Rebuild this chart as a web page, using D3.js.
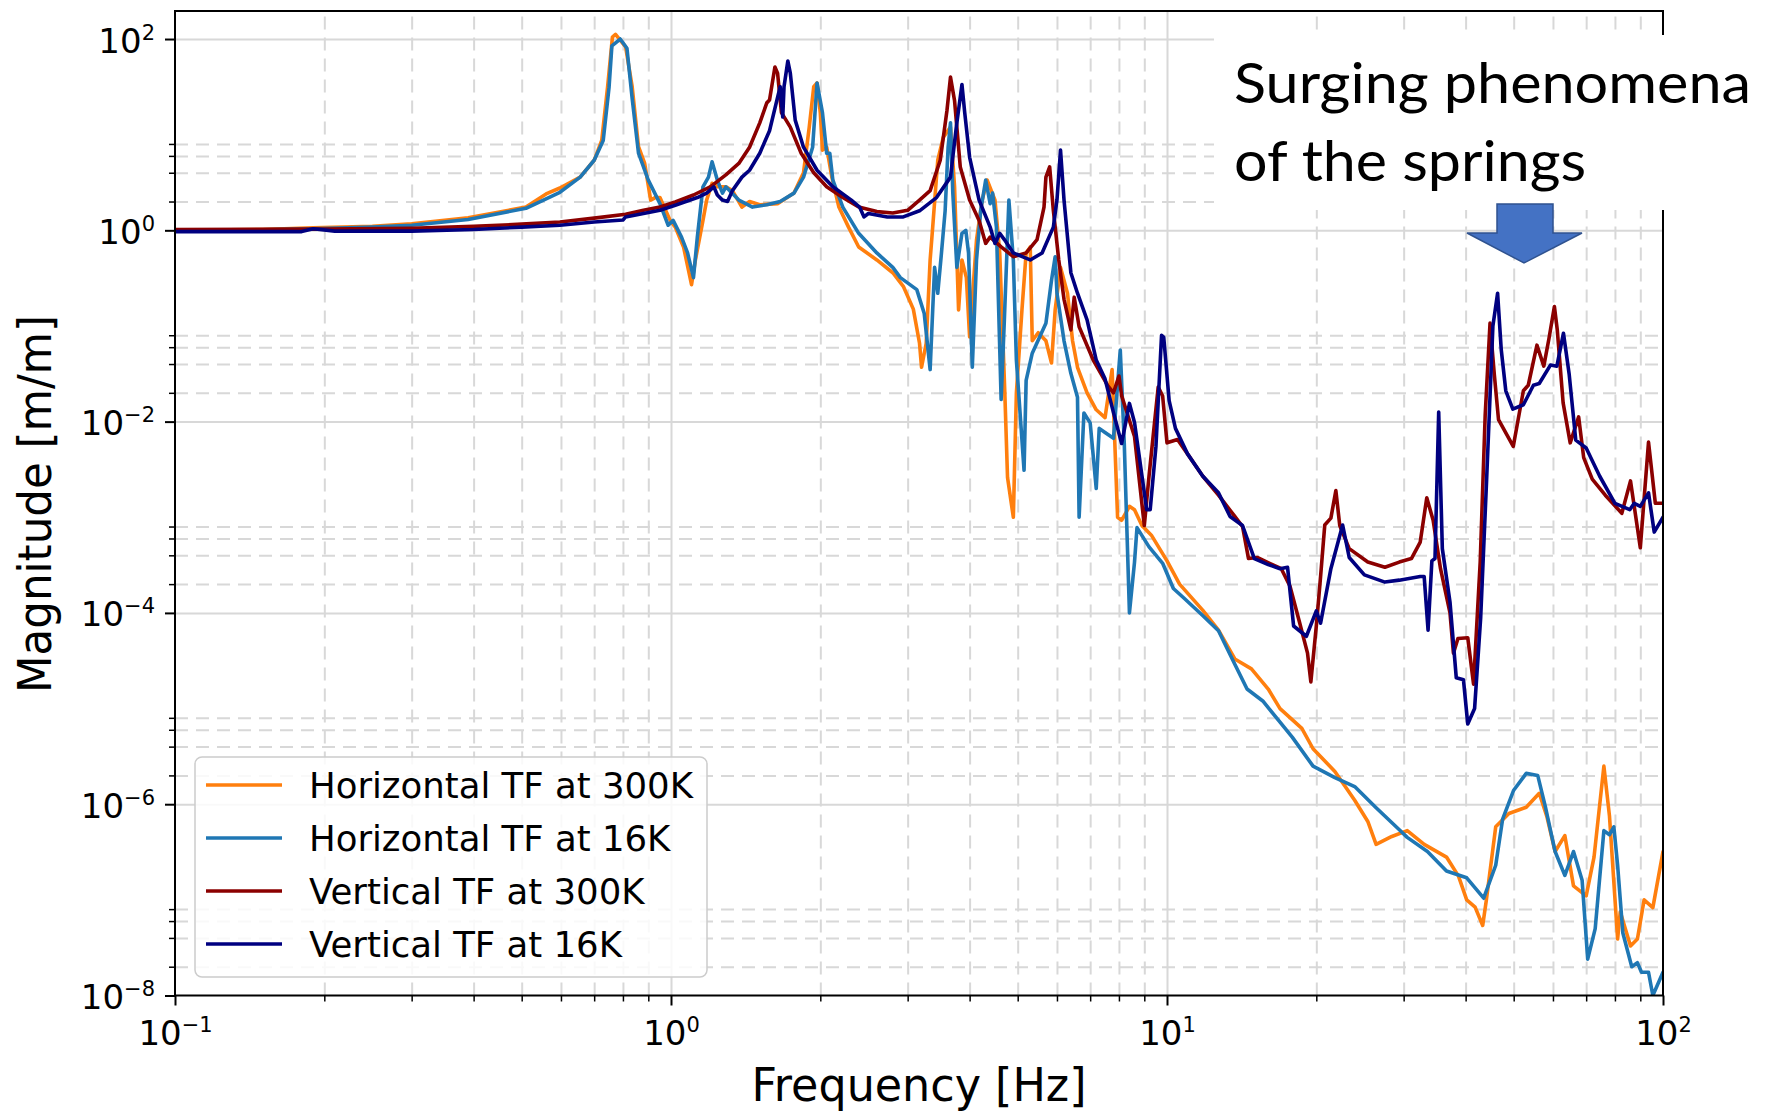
<!DOCTYPE html>
<html><head><meta charset="utf-8">
<script src="https://cdn.jsdelivr.net/npm/d3@7"></script>
<style>
body{margin:0;background:#fff;}
svg{display:block;}
</style></head><body>
<svg id="chart" width="1771" height="1111"></svg>
<script>
// ---------- data ----------
const xTickExponents = [-1, 0, 1, 2];
const yTickExponents = [-8, -6, -4, -2, 0, 2];
const xMinorMultipliers = [2, 3, 4, 5, 6, 7, 8, 9];
const yMinorMultipliers = [2, 4, 6, 8];
const seriesNames = ["Horizontal TF at 300K", "Horizontal TF at 16K", "Vertical TF at 300K", "Vertical TF at 16K"];
const seriesColors = ["#ff7f0e", "#1f77b4", "#8b0000", "#000080"];
const xLabel = "Frequency [Hz]";
const yLabel = "Magnitude [m/m]";
const annotationLines = ["Surging phenomena", "of the springs"];

// [frequency Hz, magnitude m/m]
const horizontal300K = [[0.1,1.0],[0.15,1.02],[0.19,1.06],[0.25,1.1],[0.3,1.17],[0.39,1.35],[0.51,1.75],[0.56,2.4],[0.597,2.77],[0.656,3.6],[0.70,5.4],[0.725,8.7],[0.745,31.6],[0.762,105],[0.773,112],[0.81,83],[0.835,31.8],[0.86,7.5],[0.885,5.0],[0.91,2.07],[0.929,2.2],[0.95,2.2],[0.996,1.27],[1.02,1.08],[1.06,0.67],[1.10,0.27],[1.12,0.49],[1.16,1.27],[1.18,2.07],[1.21,3.1],[1.24,2.85],[1.29,2.85],[1.33,2.6],[1.39,1.75],[1.44,2.0],[1.51,1.85],[1.64,1.9],[1.77,2.45],[1.85,4.0],[1.90,12],[1.94,31.7],[1.97,34.7],[2.0,16.9],[2.02,6.9],[2.06,7.4],[2.11,3.6],[2.18,1.75],[2.28,1.08],[2.39,0.67],[2.6,0.49],[2.8,0.36],[2.94,0.26],[3.08,0.15],[3.17,0.066],[3.2,0.037],[3.27,0.066],[3.33,0.49],[3.37,1.08],[3.45,5.4],[3.54,9.4],[3.66,12],[3.73,2.85],[3.80,0.147],[3.86,0.49],[3.94,0.32],[4.0,0.077],[4.13,0.79],[4.24,2.07],[4.34,3.35],[4.5,2.07],[4.6,0.58],[4.71,0.02],[4.77,0.0026],[4.9,0.001],[4.97,0.02],[5.1,0.147],[5.2,0.58],[5.3,0.67],[5.35,0.07],[5.5,0.085],[5.7,0.07],[5.85,0.041],[5.95,0.147],[6.1,0.41],[6.3,0.22],[6.45,0.07],[6.6,0.037],[6.9,0.02],[7.2,0.0133],[7.5,0.011],[7.75,0.035],[7.95,0.001],[8.1,0.00093],[8.4,0.0013],[8.6,0.0012],[8.9,0.00082],[9.3,0.00065],[10,0.00035],[10.6,0.0002],[11.8,0.000107],[12.7,6.6e-5],[13.7,3.3e-5],[14.8,2.6e-5],[16,1.6e-5],[16.9,1.0e-5],[18.7,6.2e-6],[19.7,3.8e-6],[21.8,2.2e-6],[23.9,1.1e-6],[25.4,6.6e-7],[26.4,3.8e-7],[28.4,4.6e-7],[30.5,5.3e-7],[33,3.8e-7],[36.6,2.8e-7],[38.7,1.77e-7],[40.2,1.0e-7],[41.8,8.4e-8],[43.3,5.4e-8],[44,9.6e-8],[46,5.8e-7],[48.9,8e-7],[53,9.3e-7],[56.3,1.3e-6],[58.3,7.5e-7],[60.6,3.2e-7],[63.4,4.7e-7],[66,1.4e-7],[70,1.1e-7],[72.6,2.8e-7],[76,2.5e-6],[78,7.5e-7],[81,3.9e-8],[82,7.5e-8],[86,3.3e-8],[88.8,3.9e-8],[91.6,1.0e-7],[95.4,8.3e-8],[100,3.2e-7]];

const horizontal16K = [[0.1,1.0],[0.15,1.01],[0.19,1.04],[0.25,1.08],[0.3,1.13],[0.39,1.3],[0.51,1.7],[0.597,2.5],[0.656,3.6],[0.70,5.4],[0.73,8.7],[0.75,31],[0.76,85],[0.79,100],[0.815,80],[0.835,24],[0.86,6.4],[0.90,3.35],[0.95,1.9],[0.987,1.13],[1.01,1.27],[1.05,0.85],[1.08,0.58],[1.11,0.32],[1.13,0.85],[1.16,2.85],[1.19,3.6],[1.21,5.2],[1.24,3.35],[1.27,2.45],[1.29,2.85],[1.37,2.07],[1.46,1.75],[1.56,1.85],[1.66,2.0],[1.77,2.45],[1.85,3.6],[1.93,7.4],[1.97,34.7],[2.02,17],[2.06,6.4],[2.09,6.4],[2.12,3.35],[2.22,1.75],[2.39,0.93],[2.6,0.58],[2.8,0.41],[2.9,0.32],[3.13,0.24],[3.24,0.135],[3.33,0.035],[3.37,0.147],[3.4,0.41],[3.45,0.22],[3.51,0.58],[3.57,1.6],[3.62,7.4],[3.66,13.3],[3.7,2.45],[3.77,0.41],[3.86,0.93],[3.93,1.0],[3.98,0.58],[4.05,0.037],[4.13,0.49],[4.21,1.6],[4.31,3.35],[4.4,1.9],[4.45,2.45],[4.53,1.08],[4.63,0.017],[4.7,0.116],[4.8,2.07],[4.9,0.49],[4.97,0.044],[5.15,0.0031],[5.2,0.027],[5.35,0.052],[5.7,0.107],[5.85,0.30],[5.95,0.53],[6.0,0.22],[6.2,0.07],[6.4,0.032],[6.6,0.018],[6.65,0.001],[6.8,0.0123],[7.0,0.0097],[7.2,0.002],[7.3,0.0085],[7.5,0.0077],[7.8,0.0067],[8.05,0.056],[8.2,0.006],[8.4,1.0e-4],[8.6,0.00034],[8.7,0.00078],[9.2,0.00049],[9.8,0.00033],[10.3,0.00018],[10.8,0.000144],[11.8,9.4e-5],[12.7,6.5e-5],[13.7,2.9e-5],[14.5,1.6e-5],[15.6,1.2e-5],[16.9,7.2e-6],[17.9,5e-6],[19.7,2.5e-6],[21.8,1.9e-6],[23.9,1.53e-6],[26.4,9.2e-7],[29.4,5.4e-7],[30.5,4.5e-7],[33.5,3.2e-7],[36.6,2e-7],[40.2,1.7e-7],[43.5,1.04e-7],[46,2.3e-7],[47.5,7e-7],[50,1.4e-6],[53,2.1e-6],[55.9,2.0e-6],[57.9,9.5e-7],[60.6,3.2e-7],[63.4,1.8e-7],[66,3.2e-7],[68.7,1.6e-7],[70.5,2.4e-8],[73,5e-8],[76,5.3e-7],[78,4.8e-7],[79.6,5.8e-7],[81,2.3e-7],[83,4.5e-8],[86.5,2e-8],[88.8,2.2e-8],[90.5,1.75e-8],[93.5,1.75e-8],[95.4,1.0e-8],[100,1.75e-8]];

const vertical300K = [[0.1,1.02],[0.2,1.03],[0.3,1.05],[0.4,1.1],[0.5,1.16],[0.597,1.22],[0.70,1.34],[0.81,1.47],[0.88,1.62],[0.95,1.75],[1.02,1.98],[1.11,2.34],[1.20,2.85],[1.29,3.8],[1.37,5.0],[1.44,7.4],[1.51,13.3],[1.56,21.5],[1.58,23],[1.62,51],[1.64,44],[1.67,17],[1.74,12],[1.83,6.4],[1.94,4.0],[2.06,2.85],[2.22,2.2],[2.39,1.75],[2.6,1.57],[2.8,1.52],[3.0,1.62],[3.17,2.07],[3.33,2.6],[3.49,5.4],[3.6,17.8],[3.66,40],[3.73,22.6],[3.83,4.6],[4.0,2.07],[4.18,1.27],[4.31,0.73],[4.4,0.85],[4.63,0.67],[4.9,0.53],[5.2,0.58],[5.47,0.8],[5.65,1.75],[5.7,3.6],[5.8,4.6],[5.9,1.62],[6.05,0.49],[6.2,0.19],[6.4,0.091],[6.5,0.2],[6.65,0.098],[7.1,0.044],[7.6,0.0237],[7.8,0.02],[8.0,0.030],[8.1,0.0187],[8.6,0.007],[9.0,0.00082],[9.2,0.0027],[9.6,0.023],[9.8,0.0185],[10.0,0.006],[10.5,0.0065],[11.0,0.0046],[11.8,0.0027],[12.7,0.0017],[13.7,0.00102],[14.2,0.0008],[14.6,0.00037],[15.2,0.00038],[16.1,0.00033],[17,0.00029],[17.7,0.00019],[18.5,8e-5],[19.2,3.8e-5],[19.5,1.9e-5],[20,7.3e-5],[20.4,0.00024],[20.8,0.00083],[21.4,0.00098],[21.9,0.0019],[22.3,0.00082],[23.3,0.00047],[25.4,0.00034],[27.5,0.0003],[29.4,0.00034],[31.1,0.00037],[32.4,0.00055],[33.4,0.0016],[34.4,0.00093],[35.6,0.00029],[37.2,0.0001],[37.8,3.8e-5],[38.6,5.4e-5],[40.4,5.5e-5],[41.5,1.8e-5],[42.8,0.00034],[43.8,0.0116],[44.8,0.107],[45.7,0.031],[46.6,0.0105],[49.9,0.0055],[52.3,0.021],[53.5,0.024],[55.7,0.063],[57.5,0.038],[58.9,0.074],[60.4,0.16],[61.2,0.092],[62.9,0.0157],[65,0.006],[67.6,0.0112],[69.2,0.0042],[72,0.0025],[76.5,0.0017],[82.6,0.0011],[86,0.0024],[90,0.00048],[93.5,0.0061],[96.5,0.0014],[100,0.0014]];

const vertical16K = [[0.1,0.97],[0.18,0.97],[0.19,1.04],[0.21,0.98],[0.3,0.98],[0.4,1.02],[0.5,1.08],[0.597,1.13],[0.70,1.22],[0.80,1.28],[0.81,1.38],[0.88,1.5],[0.95,1.62],[1.02,1.83],[1.13,2.2],[1.18,2.45],[1.22,2.85],[1.24,2.34],[1.27,2.07],[1.30,2.0],[1.33,2.6],[1.39,3.6],[1.44,4.25],[1.51,6.4],[1.58,11],[1.63,21.5],[1.66,31.7],[1.68,15.3],[1.69,31.7],[1.72,59],[1.74,44],[1.78,14.2],[1.85,7.4],[1.97,4.25],[2.12,2.85],[2.31,2.07],[2.4,1.75],[2.45,1.38],[2.5,1.5],[2.73,1.38],[2.94,1.38],[3.17,1.6],[3.43,2.2],[3.66,3.6],[3.76,12],[3.86,33.5],[3.91,17],[4.0,5.8],[4.18,2.07],[4.4,1.08],[4.5,0.73],[4.6,0.93],[4.7,0.8],[4.9,0.58],[5.3,0.49],[5.6,0.58],[5.9,1.08],[6.0,2.07],[6.1,6.9],[6.2,2.07],[6.4,0.36],[6.6,0.22],[6.9,0.116],[7.2,0.044],[7.5,0.028],[7.8,0.0124],[8.1,0.0059],[8.4,0.0155],[8.6,0.0098],[9.1,0.0012],[9.25,0.0012],[9.5,0.0055],[9.75,0.08],[9.85,0.076],[10.1,0.0166],[10.4,0.0085],[11,0.0046],[11.8,0.0027],[12.7,0.0018],[13.4,0.00102],[14.2,0.00082],[15.0,0.00037],[16.0,0.00032],[16.9,0.00029],[17.5,0.0003],[18.0,7.3e-5],[19.1,5.7e-5],[20,0.000105],[20.4,7.8e-5],[21.4,0.00029],[22.6,0.00083],[23.3,0.00038],[25,0.00025],[27.5,0.00021],[29.4,0.00022],[32.4,0.00024],[33.0,0.00024],[33.6,6.6e-5],[34.2,0.00035],[34.7,0.00037],[35.3,0.0126],[35.9,0.00047],[37.2,0.00013],[38.3,2.1e-5],[39.6,2e-5],[40.4,6.9e-6],[41.7,1.0e-5],[42.9,9e-5],[44.1,0.0025],[45.4,0.1],[46.4,0.22],[47.2,0.056],[48.2,0.021],[49.8,0.0135],[52.3,0.015],[54.8,0.024],[56.3,0.025],[59.3,0.039],[61.1,0.038],[63,0.084],[64.7,0.031],[66.7,0.0064],[70,0.0053],[74.5,0.0027],[80,0.0014],[85.7,0.0012],[87.5,0.0014],[90,0.0013],[93.5,0.0018],[96,0.0007],[100,0.001]];

const allSeries = [horizontal300K, horizontal16K, vertical300K, vertical16K];

// ---------- layout ----------
const W = 1771, H = 1111;
const plot = {left: 175, right: 1663, top: 11, bottom: 995.5};
const svg = d3.select("#chart");
svg.append("rect").attr("width", W).attr("height", H).attr("fill", "#fff");

const x = d3.scaleLog().domain([0.1, 100]).range([plot.left, plot.right]);
const y = d3.scaleLog().domain([1e-8, Math.pow(10, 2.293)]).range([plot.bottom, plot.top]);

const xMajor = xTickExponents.map(e => Math.pow(10, e));
const yMajor = yTickExponents.map(e => Math.pow(10, e));
const xMinor = [];
xTickExponents.slice(0, -1).forEach(e => xMinorMultipliers.forEach(m => xMinor.push(m * Math.pow(10, e))));
const yMinor = [];
yTickExponents.forEach(e => yMinorMultipliers.forEach(m => { const v = m * Math.pow(10, e); if (v < y.domain()[1]) yMinor.push(v); }));

const gridColor = "#d8d8d8";
const pw = plot.right - plot.left, ph = plot.bottom - plot.top;

// grids via axes
function styleGrid(g, dashed) {
  g.select(".domain").remove();
  g.selectAll(".tick text").remove();
  g.selectAll(".tick line").attr("stroke", gridColor).attr("stroke-width", 2)
    .attr("stroke-dasharray", dashed ? "13,8" : null);
}
svg.append("g").attr("transform", `translate(0,${plot.bottom})`)
  .call(d3.axisBottom(x).tickValues(xMinor).tickSize(-ph)).call(g => styleGrid(g, true));
svg.append("g").attr("transform", `translate(${plot.left},0)`)
  .call(d3.axisLeft(y).tickValues(yMinor).tickSize(-pw)).call(g => styleGrid(g, true));
svg.append("g").attr("transform", `translate(0,${plot.bottom})`)
  .call(d3.axisBottom(x).tickValues(xMajor.slice(1, -1)).tickSize(-ph)).call(g => styleGrid(g, false));
svg.append("g").attr("transform", `translate(${plot.left},0)`)
  .call(d3.axisLeft(y).tickValues(yMajor.slice(1)).tickSize(-pw)).call(g => styleGrid(g, false));

// data lines
svg.append("clipPath").attr("id", "clip").append("rect")
  .attr("x", plot.left).attr("y", plot.top).attr("width", pw).attr("height", ph);
const line = d3.line().x(d => x(d[0])).y(d => y(d[1]));
const lines = svg.append("g").attr("clip-path", "url(#clip)");
allSeries.forEach((s, i) => {
  lines.append("path").datum(s).attr("d", line).attr("fill", "none")
    .attr("stroke", seriesColors[i]).attr("stroke-width", 3.6)
    .attr("stroke-linejoin", "round").attr("stroke-linecap", "round");
});

// spines
const spines = svg.append("g").attr("stroke", "#000").attr("stroke-width", 2);
spines.append("line").attr("x1", plot.left).attr("x2", plot.left).attr("y1", plot.top).attr("y2", plot.bottom);
spines.append("line").attr("x1", plot.right).attr("x2", plot.right).attr("y1", plot.top).attr("y2", plot.bottom);
spines.append("line").attr("x1", plot.left - 1).attr("x2", plot.right + 1).attr("y1", plot.top).attr("y2", plot.top);
spines.append("line").attr("x1", plot.left - 1).attr("x2", plot.right + 1).attr("y1", plot.bottom).attr("y2", plot.bottom);

// ticks
function supLabel(sel) {
  sel.each(function(d) {
    const t = d3.select(this);
    const e = Math.round(Math.log10(d));
    t.text(null);
    t.append("tspan").text("10");
    t.append("tspan").attr("font-size", 21).attr("dy", -13).text(e < 0 ? "\u2212" + (-e) : String(e));
  });
}
const tickFont = "DejaVu Sans, sans-serif";
svg.append("g").attr("transform", `translate(0,${plot.bottom})`)
  .call(d3.axisBottom(x).tickValues(xMinor).tickSize(6).tickFormat(""))
  .call(g => { g.select(".domain").remove(); g.selectAll(".tick line").attr("stroke-width", 1.5); });
svg.append("g").attr("transform", `translate(${plot.left},0)`)
  .call(d3.axisLeft(y).tickValues(yMinor).tickSize(6).tickFormat(""))
  .call(g => { g.select(".domain").remove(); g.selectAll(".tick line").attr("stroke-width", 1.5); });
svg.append("g").attr("transform", `translate(0,${plot.bottom})`)
  .call(d3.axisBottom(x).tickValues(xMajor).tickSize(10))
  .call(g => {
    g.select(".domain").remove();
    g.selectAll(".tick line").attr("stroke-width", 2);
    g.selectAll(".tick text").attr("y", 49.5).attr("dy", 0)
      .attr("font-family", tickFont).attr("font-size", 34).attr("fill", "#000").call(supLabel);
  });
svg.append("g").attr("transform", `translate(${plot.left},0)`)
  .call(d3.axisLeft(y).tickValues(yMajor).tickSize(10))
  .call(g => {
    g.select(".domain").remove();
    g.selectAll(".tick line").attr("stroke-width", 2);
    g.selectAll(".tick text").attr("x", -20).attr("dy", 13)
      .attr("font-family", tickFont).attr("font-size", 34).attr("fill", "#000").call(supLabel);
  });

// axis labels
svg.append("text").attr("x", (plot.left + plot.right) / 2).attr("y", 1101)
  .attr("text-anchor", "middle").attr("font-family", tickFont).attr("font-size", 46)
  .attr("textLength", 335).attr("lengthAdjust", "spacingAndGlyphs").text(xLabel);
svg.append("text").attr("transform", "translate(51,504) rotate(-90)")
  .attr("text-anchor", "middle").attr("font-family", tickFont).attr("font-size", 46)
  .attr("textLength", 378).attr("lengthAdjust", "spacingAndGlyphs").text(yLabel);

// legend
const lg = svg.append("g");
lg.append("rect").attr("x", 195).attr("y", 757).attr("width", 512).attr("height", 220)
  .attr("rx", 7).attr("fill", "#fff").attr("fill-opacity", 0.85)
  .attr("stroke", "#cccccc").attr("stroke-width", 1.5);
seriesNames.forEach((n, i) => {
  const cy = 785 + i * 53;
  lg.append("line").attr("x1", 206).attr("x2", 282).attr("y1", cy).attr("y2", cy)
    .attr("stroke", seriesColors[i]).attr("stroke-width", 3.6);
  lg.append("text").attr("x", 309).attr("y", cy + 13).attr("font-family", tickFont)
    .attr("font-size", 35.5).attr("fill", "#000").text(n);
});

// annotation box covering part of the frame
svg.append("rect").attr("x", 1214).attr("y", 35).attr("width", W - 1214).attr("height", 175).attr("fill", "#fff");
const annFont = "Lato, 'Open Sans', sans-serif";
svg.append("text").attr("x", 1234).attr("y", 103).attr("font-family", annFont).attr("font-size", 56)
  .attr("textLength", 517).attr("lengthAdjust", "spacingAndGlyphs").text(annotationLines[0]);
svg.append("text").attr("x", 1234).attr("y", 181).attr("font-family", annFont).attr("font-size", 56)
  .attr("textLength", 352).attr("lengthAdjust", "spacingAndGlyphs").text(annotationLines[1]);
// arrow
svg.append("path")
  .attr("d", "M1497,204 L1553,204 L1553,233 L1582,233 L1524,263 L1467,233 L1497,233 Z")
  .attr("fill", "#4472c4").attr("stroke", "#2f528f").attr("stroke-width", 1.5);
</script>
</body></html>
